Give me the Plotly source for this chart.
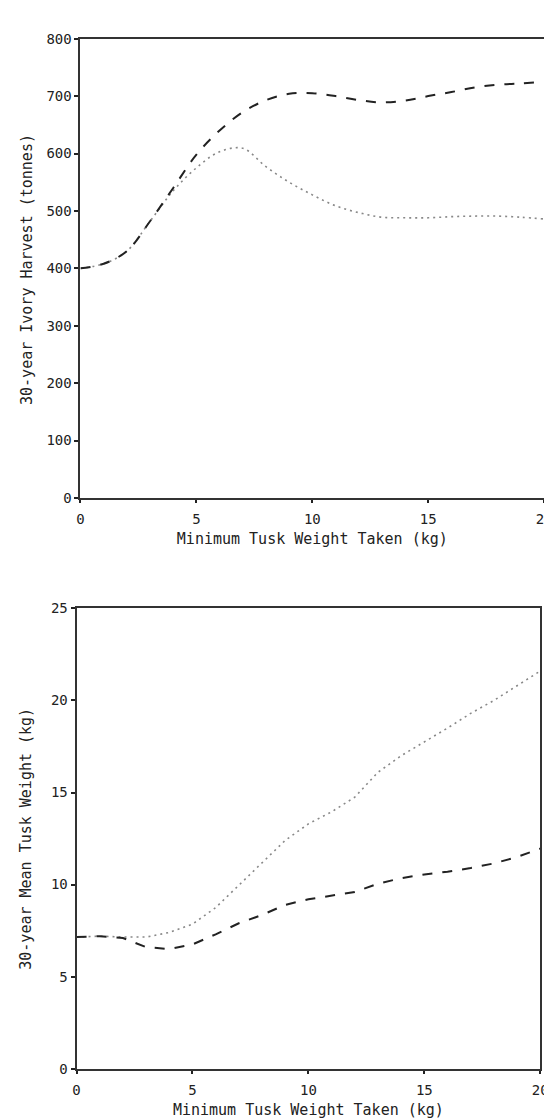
import plotly.graph_objects as go

# Data
x_vals = list(range(0, 21))

harvest_dashed = [400, 408, 430, 482, 540, 598, 640, 672, 693, 704, 705, 700, 693, 689, 692, 700, 707, 715, 720, 722, 725]
harvest_dotted = [400, 408, 430, 482, 535, 575, 603, 609, 577, 550, 528, 509, 497, 489, 488, 488, 490, 491, 491, 489, 486]

tusk_dashed = [7.15, 7.2, 7.1, 6.6, 6.5, 6.75, 7.3, 7.9, 8.35, 8.9, 9.2, 9.4, 9.6, 10.05, 10.35, 10.55, 10.7, 10.9, 11.15, 11.5, 11.95]
tusk_dotted = [7.15, 7.2, 7.15, 7.15, 7.4, 7.85, 8.75, 9.95, 11.2, 12.4, 13.3, 13.95, 14.75, 16.1, 17.0, 17.75, 18.5, 19.3, 20.0, 20.8, 21.6]

x_ticks = [0, 5, 10, 15, 20]
y1_ticks = [0, 100, 200, 300, 400, 500, 600, 700, 800]
y2_ticks = [0, 5, 10, 15, 20, 25]

x_title = "Minimum Tusk Weight Taken (kg)"
y1_title = "30-year Ivory Harvest (tonnes)"
y2_title = "30-year Mean Tusk Weight (kg)"

W, H = 552, 1118
TICKFONT = dict(family="DejaVu Sans Mono", size=14, color="#222")
TITLEFONT = dict(family="DejaVu Sans Mono", size=15, color="#222")

fig = go.Figure()

dash_style = dict(color="#222", width=2, dash="10px,10px")
dot_style = dict(color="#888", width=1.6, dash="2px,4px")

fig.add_trace(go.Scatter(x=x_vals, y=harvest_dotted, mode="lines", line=dot_style,
                         xaxis="x", yaxis="y", showlegend=False, line_shape="spline"))
fig.add_trace(go.Scatter(x=x_vals, y=harvest_dashed, mode="lines", line=dash_style,
                         xaxis="x", yaxis="y", showlegend=False, line_shape="spline"))
fig.add_trace(go.Scatter(x=x_vals, y=tusk_dotted, mode="lines", line=dot_style,
                         xaxis="x2", yaxis="y2", showlegend=False))
fig.add_trace(go.Scatter(x=x_vals, y=tusk_dashed, mode="lines", line=dash_style,
                         xaxis="x2", yaxis="y2", showlegend=False))

def xaxis(domain, anchor):
    return dict(domain=domain, anchor=anchor, range=[0, 20], tickvals=x_ticks,
                ticks="outside", ticklen=3, tickwidth=2, tickcolor="#222",
                showline=True, linecolor="#333", linewidth=2, mirror=True,
                showgrid=False, zeroline=False, tickfont=TICKFONT,
                ticklabelstandoff=4,
                title=dict(text=x_title, font=TITLEFONT, standoff=8))

def yaxis(domain, anchor, rng, tv):
    return dict(domain=domain, anchor=anchor, range=rng, tickvals=tv,
                ticks="outside", ticklen=4, tickwidth=2, tickcolor="#222",
                showline=True, linecolor="#333", linewidth=2, mirror=True,
                showgrid=False, zeroline=False, tickfont=TICKFONT)

fig.update_layout(
    width=W, height=H,
    margin=dict(l=0, r=0, t=0, b=0),
    paper_bgcolor="white", plot_bgcolor="white",
    xaxis=xaxis([70 / W, 544 / W], "y"),
    yaxis=yaxis([1 - 489 / H, 1 - 23 / H], "x", [0, 800], y1_ticks),
    xaxis2=xaxis([66 / W, 540 / W], "y2"),
    yaxis2=yaxis([1 - 1068 / H, 1 - 601 / H], "x2", [0, 25], y2_ticks),
    annotations=[
        dict(text=y1_title, x=16 / W, y=1 - 257 / H, xref="paper", yref="paper",
             textangle=-90, showarrow=False, font=TITLEFONT, xanchor="center", yanchor="middle"),
        dict(text=y2_title, x=14 / W, y=1 - 835 / H, xref="paper", yref="paper",
             textangle=-90, showarrow=False, font=TITLEFONT, xanchor="center", yanchor="middle"),
    ],
)

fig.write_html("out.html")
